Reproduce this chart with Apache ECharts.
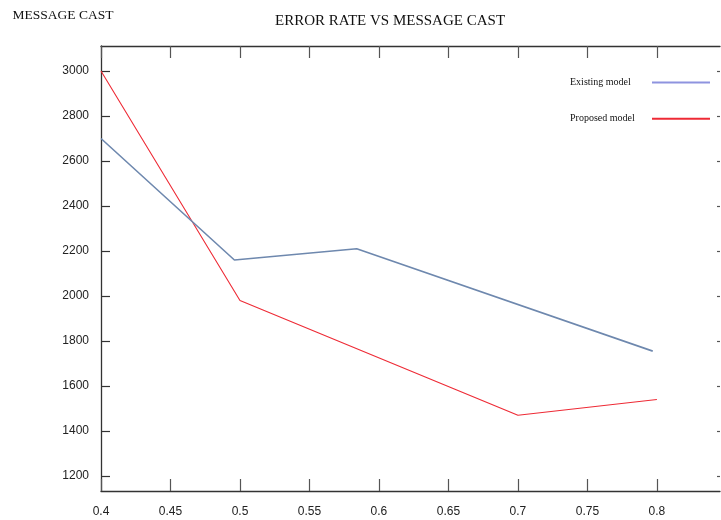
<!DOCTYPE html>
<html>
<head>
<meta charset="utf-8">
<script src="https://cdn.jsdelivr.net/npm/echarts@6/dist/echarts.min.js"></script>
<style>
  html, body { margin: 0; padding: 0; background: #fff; }
  #chart { width: 721px; height: 520px; }
</style>
</head>
<body>
<div id="chart"></div>
<script>
// values
var existingX = [0.4, 0.496, 0.584, 0.797]
var existingY = [2700, 2160, 2210, 1755]
var proposedX = [0.4, 0.5, 0.7, 0.8]
var proposedY = [3000, 1980, 1470, 1540]
var xTicks = [0.4, 0.45, 0.5, 0.55, 0.6, 0.65, 0.7, 0.75, 0.8]
var yTicks = [1200, 1400, 1600, 1800, 2000, 2200, 2400, 2600, 2800, 3000]

var tickFont = "'Liberation Sans', Arial, sans-serif"
var serif = "'Liberation Serif', 'Times New Roman', serif"

function pairs(xs, ys) {
  return xs.map(function (x, i) { return [x, ys[i]] })
}

var myChart = echarts.init(document.getElementById('chart'))

var axisLine = { show: true, onZero: false, lineStyle: { color: '#333', width: 1.3 } }

var option = {
  animation: false,
  backgroundColor: '#fff',
  title: {
    text: 'ERROR RATE VS MESSAGE CAST',
    left: 270,
    top: 9,
    textStyle: { fontFamily: serif, fontSize: 15, fontWeight: 'normal', color: '#111' },
  },
  grid: {
    left: 101,
    top: 46,
    bottom: 29,
    right: 1,
  },
  legend: {
    orient: 'vertical',
    left: 570,
    top: 77,
    padding: 0,
    align: 'right',
    itemWidth: 58,
    itemHeight: 14,
    itemGap: 25,
    formatter: function (name) {
      return '{t|' + name + '}'
    },
    textStyle: {
      rich: {
        t: { width: 77, align: 'left', fontFamily: serif, fontSize: 10, color: '#111' },
      },
    },
    itemStyle: { opacity: 0 },
    data: [
      { name: 'Existing model', itemStyle: { opacity: 0 }, lineStyle: { color: '#8e93df', width: 2 } },
      { name: 'Proposed model', itemStyle: { opacity: 0 }, lineStyle: { color: '#ee2a35', width: 2 } },
    ],
  },
  xAxis: [
    {
      type: 'value',
      position: 'bottom',
      min: 0.4,
      max: 0.8454,
      axisLine: axisLine,
      splitLine: { show: false },
      axisTick: { show: true, inside: true, length: 12, customValues: xTicks, lineStyle: { color: '#555', width: 1.2 } },
      axisLabel: {
        margin: 15,
        customValues: xTicks,
        fontFamily: tickFont,
        fontSize: 12,
        color: '#222',
      },
    },
    {
      type: 'value',
      position: 'top',
      min: 0.4,
      max: 0.8454,
      axisLine: axisLine,
      splitLine: { show: false },
      axisTick: { show: true, inside: true, length: 12, customValues: xTicks, lineStyle: { color: '#555', width: 1.2 } },
      axisLabel: { show: false },
    },
  ],
  yAxis: [
    {
      type: 'value',
      position: 'left',
      min: 1133.3,
      max: 3111.1,
      name: 'MESSAGE CAST',
      nameLocation: 'end',
      nameGap: 24,
      nameTextStyle: {
        fontFamily: serif,
        fontSize: 13.5,
        color: '#111',
        padding: [0, 76, 0, 0],
      },
      axisLine: axisLine,
      splitLine: { show: false },
      axisTick: { show: true, inside: true, length: 9, customValues: yTicks, lineStyle: { color: '#333', width: 1.2 } },
      axisLabel: {
        margin: 12,
        customValues: yTicks,
        formatter: function (v) { return String(v) },
        fontFamily: tickFont,
        fontSize: 12,
        color: '#222',
      },
    },
    {
      // right frame sits just past the picture edge, only tick stubs show
      type: 'value',
      position: 'right',
      min: 1133.3,
      max: 3111.1,
      axisLine: { show: false },
      splitLine: { show: false },
      axisTick: { show: true, inside: true, length: 3, customValues: yTicks, lineStyle: { color: '#555', width: 1.2 } },
      axisLabel: { show: false },
    },
  ],
  series: [
    {
      name: 'Existing model',
      type: 'line',
      symbol: 'none',
      data: pairs(existingX, existingY),
      lineStyle: { color: '#6e88ae', width: 1.6 },
      itemStyle: { color: '#6e88ae' },
      z: 3,
    },
    {
      name: 'Proposed model',
      type: 'line',
      symbol: 'none',
      data: pairs(proposedX, proposedY),
      lineStyle: { color: '#ee2a35', width: 1.1 },
      itemStyle: { color: '#ee2a35' },
      z: 2,
    },
  ],
}

myChart.setOption(option)
</script>
</body>
</html>
